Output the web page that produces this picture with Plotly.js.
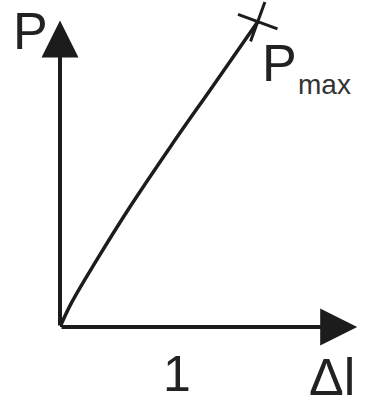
<!DOCTYPE html>
<html>
<head>
<meta charset="utf-8">
<script src="https://cdn.plot.ly/plotly-3.0.1.min.js"></script>
<style>
html,body{margin:0;padding:0;background:#fff;}
#chart{width:366px;height:419px;}
</style>
</head>
<body>
<div id="chart"></div>
<script>
// Load–elongation curve (Δl, P), units of the "1" tick on the Δl axis
var deltaL = [0, 0.10, 0.30, 0.60, 0.95, 1.30, 1.69];
var load   = [0, 0.21, 0.55, 1.03, 1.55, 2.05, 2.61];
// point of maximum load
var pmaxX = [1.69];
var pmaxY = [2.61];
// axis arrow tips
var xAxisTip = 2.54;
var yAxisTip = 2.62;
var xTickVals = [1];
var xTickText = ['1'];

var ink = '#1c1c1c';
var fontFam = '"Liberation Sans", Arial, sans-serif';

var traces = [
  {
    x: deltaL, y: load, type: 'scatter', mode: 'lines',
    line: {color: ink, width: 3.5, shape: 'spline', smoothing: 1},
    cliponaxis: false, hoverinfo: 'skip', showlegend: false
  },
  {
    x: pmaxX, y: pmaxY, type: 'scatter', mode: 'markers',
    marker: {symbol: 'cross-thin', size: 30, angle: 20, color: ink,
             line: {color: ink, width: 3}},
    cliponaxis: false, hoverinfo: 'skip', showlegend: false
  }
];

var layout = {
  width: 366, height: 419,
  margin: {l: 60, r: 0, t: 0, b: 92, pad: 0},
  paper_bgcolor: '#ffffff', plot_bgcolor: '#ffffff',
  font: {family: fontFam, color: ink},
  xaxis: {
    range: [0, 306/117], showgrid: false, zeroline: false, showline: false,
    tickvals: xTickVals, ticktext: xTickText, ticks: '',
    tickfont: {size: 50, family: fontFam, color: '#222'},
    ticklabelstandoff: 13, fixedrange: true
  },
  yaxis: {
    range: [0, 327/117], showgrid: false, zeroline: false, showline: false,
    showticklabels: false, ticks: '', fixedrange: true
  },
  annotations: [
    {x: xAxisTip, y: 0, ax: 0, ay: 0, xref: 'x', yref: 'y', axref: 'x', ayref: 'y',
     text: '', showarrow: true, arrowhead: 2, arrowsize: 1.85, arrowwidth: 4, arrowcolor: ink},
    {x: 0, y: yAxisTip, ax: 0, ay: 0, xref: 'x', yref: 'y', axref: 'x', ayref: 'y',
     text: '', showarrow: true, arrowhead: 2, arrowsize: 1.85, arrowwidth: 4, arrowcolor: ink},
    {x: -0.0948, y: 0.905, xref: 'paper', yref: 'paper', text: 'P', showarrow: false,
     xanchor: 'center', yanchor: 'middle', font: {size: 52, family: fontFam, color: '#222'}},
    {x: 0.889, y: -0.153, xref: 'paper', yref: 'paper', text: 'Δl', showarrow: false,
     xanchor: 'center', yanchor: 'middle', font: {size: 52, family: fontFam, color: '#222'}},
    {x: 0.716, y: 0.807, xref: 'paper', yref: 'paper', text: 'P', showarrow: false,
     xanchor: 'center', yanchor: 'middle', font: {size: 52, family: fontFam, color: '#222'}},
    {x: 0.863, y: 0.743, xref: 'paper', yref: 'paper', text: 'max', showarrow: false,
     xanchor: 'center', yanchor: 'middle', font: {size: 28, family: fontFam, color: '#333'}}
  ]
};

Plotly.newPlot('chart', traces, layout, {staticPlot: true, displayModeBar: false});
</script>
</body>
</html>
